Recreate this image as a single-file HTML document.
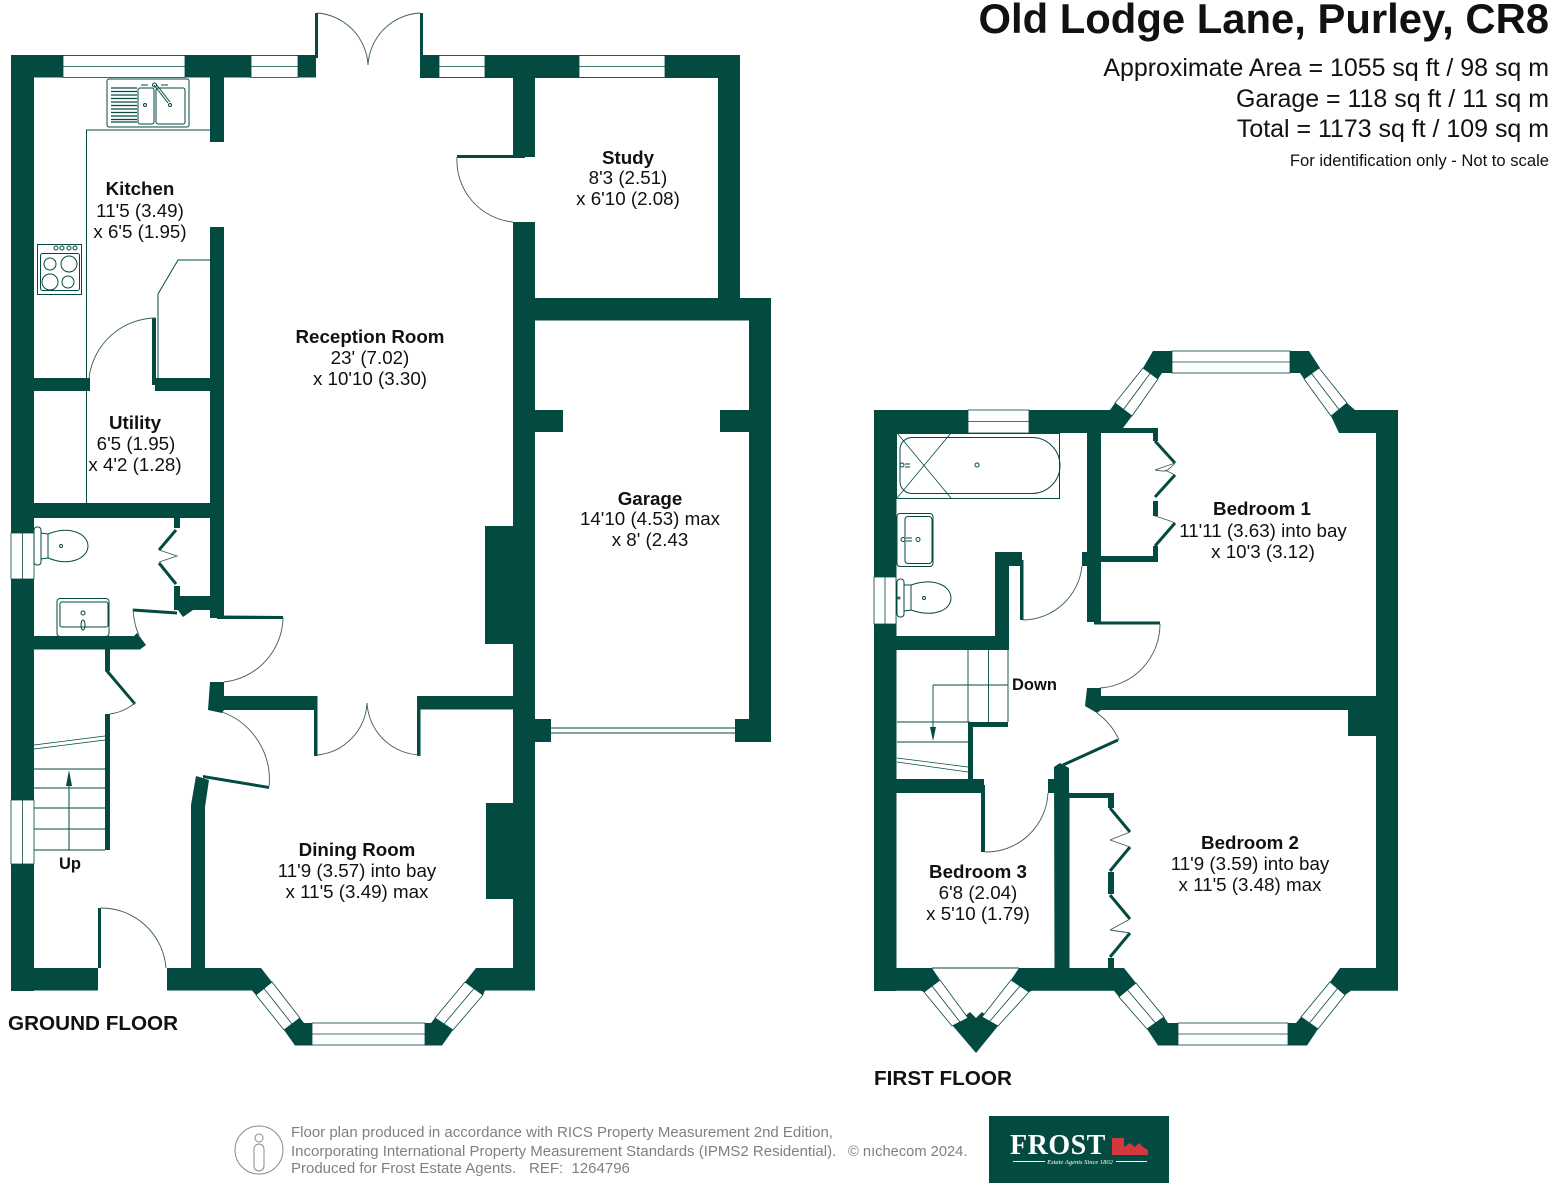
<!DOCTYPE html>
<html><head><meta charset="utf-8"><style>
html,body{margin:0;padding:0;background:#fff}
svg{display:block}
text{font-family:"Liberation Sans",sans-serif;fill:#111}
.r{font-size:18.750px;text-anchor:middle}
.b{font-weight:bold}
.w{fill:#034a40}
.l{fill:none;stroke:#034a40;stroke-width:1}
.a{fill:none;stroke:#3c5c55;stroke-width:.9}
.t{fill:none;stroke:#034a40;stroke-width:3}
.g{fill:#808080;font-size:15px}
.n{fill:#fff;stroke:#034a40;stroke-width:.8}
</style></head><body>
<svg width="1553" height="1186" viewBox="0 0 1553 1186" xmlns="http://www.w3.org/2000/svg">
<rect width="1553" height="1186" fill="#fff"/>

<!-- GROUND FLOOR WALLS -->
<g class="w">
<rect x="11" y="55" width="23" height="936"/>
<rect x="11" y="55" width="305" height="22.500"/>
<rect x="315" y="13" width="3" height="45"/>
<rect x="420" y="13" width="3" height="45"/>
<rect x="420" y="55" width="320" height="23"/>
<rect x="718" y="55" width="22" height="265"/>
<rect x="513" y="55" width="22" height="102"/>
<rect x="513" y="222" width="22" height="768"/>
<rect x="210" y="77" width="14" height="65"/>
<rect x="210" y="227" width="14" height="390"/>
<rect x="34" y="378" width="56" height="13"/>
<rect x="155" y="378" width="56" height="13"/>
<rect x="152" y="318" width="4" height="67"/>
<rect x="34" y="503" width="176" height="15"/>
<rect x="174" y="518" width="6" height="10"/>
<rect x="174" y="586" width="6" height="15"/>
<rect x="174" y="596" width="50" height="14"/>
<polygon points="175,606 183,602 193,610 183,617"/>
<polygon points="34,636 134,636 137,633 146,645 140,649.500 34,649.500"/>
<rect x="105" y="649" width="5" height="22"/>
<rect x="105" y="714" width="5" height="136"/>
<polygon points="105,671 109,671 136,703 134,705"/>
<rect x="210" y="610" width="7" height="8"/>
<polygon points="217,615.500 283,616 283,619 217,619"/>
<polygon points="210,682 224,682 224,696 315,696 315,710 224,710 222,713 208,710"/>
<rect x="314" y="696" width="3.500" height="60"/>
<rect x="417" y="696" width="96" height="13.500"/>
<rect x="417" y="703" width="3.500" height="53"/>
<rect x="513" y="696" width="5" height="14"/>
<rect x="485" y="526" width="28" height="118"/>
<rect x="486" y="803" width="27" height="96"/>
<polygon points="196,776 209,780 205,807 205,968 191,968 191,805"/>
<polygon points="203,775 269,786 269,789 203,778"/>
<rect x="98" y="908" width="3" height="60"/>
<polygon points="11,968 98,968 98,990.500 11,990.500"/>
<polygon points="167,968 261,968 272,982 256,995 252,990.500 167,990.500"/>
<polygon points="300,1018 304,1023 312,1023 312,1045.500 295,1045.500 284,1030"/>
<polygon points="425,1023 431,1023 435,1018 453,1030 442,1045.500 425,1045.500"/>
<polygon points="465,982 476,968 513,968 535,968 535,990.500 485,990.500 483,995"/>
<rect x="457" y="155" width="68" height="3"/>
<rect x="513" y="298" width="258" height="22.500"/>
<rect x="749" y="298" width="22" height="444"/>
<rect x="535" y="410" width="28" height="22"/>
<rect x="720" y="410" width="29" height="22"/>
<rect x="535" y="719" width="16" height="23"/>
<rect x="735" y="719" width="14" height="23"/>
</g>
<!-- bifold WC -->
<path class="t" d="M176,530 L159,550 M159,563 L176,584" stroke-width="2.500"/>
<path class="t" d="M133,610 L177,613"/>
<path class="a" d="M159,550 L177,556 L159,562"/>
<!-- windows ground -->
<g class="n">
<rect x="63" y="55.500" width="122" height="22"/><path d="M63,66.500H185"/>
<rect x="251" y="55.500" width="47" height="22"/><path d="M251,66.500H298"/>
<rect x="439" y="55.500" width="46" height="22"/><path d="M439,66.500H485"/>
<rect x="579" y="55.500" width="86" height="22"/><path d="M579,66.500H665"/>
<rect x="11" y="533" width="23" height="46"/><path d="M22.500,533V579"/>
<rect x="11" y="800" width="23" height="64"/><path d="M22.500,800V864"/>
<rect x="312" y="1023" width="113" height="22"/><path d="M312,1034H425"/>
<polygon points="256,995 272,982 300,1018 284,1030"/><path d="M264,988.500L292,1024"/>
<polygon points="435,1018 453,1030 483,995 465,982"/><path d="M444,1024L474,988.500"/>
</g>
<!-- arcs ground -->
<g class="a">
<path d="M317,13 A55,55 0 0 1 368,65"/>
<path d="M420,13 A55,55 0 0 0 368,65"/>
<path d="M317,755 A55,55 0 0 0 367,703"/>
<path d="M420,755 A55,55 0 0 1 367,703"/>
<path d="M457,157 A62,62 0 0 0 513,222"/>
<path d="M156,318 A68,68 0 0 0 89,378"/>
<path d="M283,617 A66,66 0 0 1 224,682"/>
<path d="M222,712 A72,72 0 0 1 269,787"/>
<path d="M101,908 A65,65 0 0 1 166,968"/>
<path d="M133,609 Q134,625 139,635"/>
<path d="M135,703 Q124,712 110,714"/>
</g>
<!-- counters -->
<g class="l">
<path d="M210,130H86.500V505"/>
<path d="M210,260H178L158,294V378"/>
<path d="M89,391V378"/>
<rect x="107" y="79" width="82" height="48" rx="2"/>
<rect x="138" y="88" width="16" height="36" rx="2"/>
<rect x="156" y="88" width="29" height="36" rx="2"/>
<path d="M111,88H137M111,91.500H137M111,95H137M111,98.500H137M111,102H137M111,105.500H137M111,109H137M111,112.500H137M111,116H137M111,119.500H137M111,122H137" stroke-width="1.300"/>
<path d="M154,85L168,103M156,84L170,102"/>
<circle cx="154.500" cy="85" r="2"/>
<circle cx="145" cy="105" r="1.500"/><circle cx="170" cy="105" r="1.500"/>
<path d="M141,85H148M161,85H168"/>
<rect x="37.500" y="244.500" width="44" height="50"/>
<rect x="40.500" y="253.500" width="39" height="37" rx="2"/>
<circle cx="50" cy="264" r="6"/><circle cx="69" cy="264" r="8"/>
<circle cx="50" cy="282" r="8"/><circle cx="68" cy="282" r="6"/>
<circle cx="56" cy="248" r="2"/><circle cx="62" cy="248" r="2"/><circle cx="69" cy="248" r="2"/><circle cx="75" cy="248" r="2"/>
<rect x="34" y="527" width="7" height="38" rx="3"/>
<path d="M41,533L48,534C70,525 88,534 88,546C88,558 70,567 48,558L41,559"/>
<path d="M48,534V558"/>
<circle cx="61" cy="546" r="1.500"/>
<rect x="57" y="598.500" width="52" height="38" rx="3"/>
<rect x="60" y="602" width="48" height="25" rx="2"/>
<ellipse cx="83" cy="625" rx="2" ry="5"/>
<circle cx="83" cy="613" r="2"/>
<!-- stairs ground -->
<path d="M34,769H105M34,788H105M34,808H105M34,829H105M34,850H105" stroke-width=".9"/>
<path d="M34,745L105,736M34,749L105,740" stroke-width=".7"/>
<path d="M69,850V774"/>
<path d="M551,728H735M551,733H735"/>
</g>
<polygon class="w" points="69,770 66,786 72,786"/>

<!-- FIRST FLOOR WALLS -->
<g class="w">
<rect x="874" y="410" width="22.500" height="581"/>
<polygon points="874,410 1110,410 1115,403 1132,416 1123,428 1158,428 1158,433 874,433"/>
<rect x="1087" y="428" width="14" height="194"/>
<rect x="1101" y="556" width="57" height="6"/>
<rect x="1153" y="428" width="5" height="13"/>
<rect x="1153" y="501" width="5" height="15"/>
<rect x="1153" y="546" width="5" height="16"/>
<rect x="1082" y="552" width="5" height="14"/>
<rect x="995" y="552" width="27" height="14"/>
<rect x="995" y="552" width="14" height="98"/>
<rect x="1020" y="560" width="3.500" height="60"/>
<rect x="896" y="636" width="113" height="14"/>
<rect x="1094" y="621.500" width="66" height="3"/>
<polygon points="1087,688 1101,688 1101,696 1398,696 1398,710 1101,710 1097,713 1085,706"/>
<rect x="1348" y="710" width="28" height="26"/>
<rect x="968" y="722" width="40" height="5"/>
<rect x="968" y="722" width="5" height="60"/>
<rect x="896" y="779" width="88" height="14"/>
<rect x="981" y="785" width="4" height="67"/>
<rect x="1048" y="779" width="7" height="14"/>
<polygon points="1054,767 1060,763 1069,768 1069,793 1113,793 1113,798 1069.500,798 1069.500,968 1054.500,968"/>
<rect x="1108" y="793" width="6" height="15"/>
<rect x="1108" y="872" width="6" height="22"/>
<rect x="1108" y="958" width="6" height="10"/>
<polygon points="874,968 932,968 940,980 924,992 921,990.700 874,990.700"/>
<polygon points="953,1026 970,1012 976,1018 982,1012 998,1026 976,1053"/>
<polygon points="1011,980 1019,968 1124,968 1136,983 1119,997 1114,990.700 1032,990.700 1029,992"/>
<polygon points="1164,1017 1168,1023 1178,1023 1178,1045.500 1158,1045.500 1147,1029"/>
<polygon points="1288,1023 1296,1023 1301,1017 1318,1029 1307,1045.500 1288,1045.500"/>
<polygon points="1330,982 1340,968 1376,968 1376,410 1398,410 1398,990.700 1351,990.700 1345,995"/>
<polygon points="1143,368 1153,351 1172,351 1172,373 1162,373 1158,379"/>
<polygon points="1290,351 1309,351 1320,368 1304,379 1300,373 1290,373"/>
<polygon points="1347,403 1355,410 1376,410 1376,433 1339,433 1331,416"/>
</g>
<path class="t" stroke-width="2.500" d="M1155,441L1175,463M1175,475L1155,497M1155,546L1175,523"/>
<path class="t" stroke-width="2.500" d="M1110,808L1130,832M1130,847L1110,871M1110,895L1130,919M1130,933L1110,957"/>
<path class="t" stroke-width="3" d="M1063,765L1118,740"/>
<path class="l" d="M932,968H1019"/>
<g class="n">
<rect x="968" y="410" width="61" height="23"/><path d="M968,421.500H1029"/>
<rect x="874" y="577" width="22" height="47"/><path d="M885,577V624"/>
<rect x="1172" y="351" width="118" height="22"/><path d="M1172,362H1290"/>
<polygon points="1115,403 1132,416 1158,379 1143,368"/><path d="M1123.500,409.500L1150,373.500"/>
<polygon points="1319,368 1304,379 1331,416 1347,403"/><path d="M1311.500,373.500L1339,409.500"/>
<polygon points="924,992 940,980 968,1018 952,1026"/><path d="M932,986L960,1022"/>
<polygon points="1011,980 1029,992 998,1026 982,1017"/><path d="M1020,986L990,1021"/>
<polygon points="1119,997 1136,983 1164,1017 1147,1029"/><path d="M1127.500,990L1155.500,1023"/>
<rect x="1178" y="1023" width="110" height="22"/><path d="M1178,1034H1288"/>
<polygon points="1301,1017 1318,1029 1345,995 1330,982"/><path d="M1309.500,1023L1337.500,988.500"/>
</g>
<g class="a">
<path d="M1023,620 A60,60 0 0 0 1082,566"/>
<path d="M1160,624 A64,64 0 0 1 1100,688"/>
<path d="M1097,713 Q1112,724 1119,740"/>
<path d="M985,852 A62,62 0 0 0 1048,793"/>
<path d="M1155,470L1175,463C1165,474 1165,471 1155,470"/>
<path d="M1175,475L1165,470"/>
<path d="M1155,516Q1168,520 1175,523"/>
<path d="M1110,840L1130,832M1110,840L1130,847"/>
<path d="M1110,930L1130,919M1110,930L1130,933"/>
</g>
<g class="l">
<rect x="896.500" y="433.500" width="163" height="65"/>
<path d="M912,437.500H1032A28,28 0 0 1 1032,493.500H912A12,12 0 0 1 900,481.500V449.500A12,12 0 0 1 912,437.500Z"/>
<path d="M897,433L951,498M951,433L897,498" stroke-width=".8"/>
<circle cx="977" cy="465" r="2"/>
<circle cx="902" cy="465" r="2"/><path d="M905,464H910M905,467H910"/>
<rect x="897" y="513.500" width="36" height="53" rx="3"/>
<rect x="905" y="516.500" width="27" height="47" rx="3"/>
<circle cx="918" cy="539.500" r="2"/><circle cx="903" cy="539.500" r="2"/><path d="M906,538H912M906,541H912"/>
<rect x="897" y="579" width="7" height="38" rx="3"/>
<path d="M904,585L911,585C934,577 951,586 951,598C951,610 934,618 911,610L904,611"/>
<path d="M911,585V610"/>
<circle cx="924" cy="598" r="1.500"/><circle cx="899" cy="598" r="1"/>
<path d="M968,650V722M988.500,650V722M1008,650V722" stroke-width=".9"/>
<path d="M933,685H1008M933,685V730M897,722H970M897,742H968" stroke-width=".9"/>
<path d="M897,758L968,767M897,762L968,772" stroke-width=".7"/>
</g>
<polygon class="w" points="933,741 930,727 936,727"/>

<!-- LABELS GROUND -->
<g class="r">
<text x="140" y="195" class="b">Kitchen</text>
<text x="140" y="217">11'5 (3.49)</text>
<text x="140" y="238">x 6'5 (1.95)</text>
<text x="135" y="429" class="b">Utility</text>
<text x="136" y="450">6'5 (1.95)</text>
<text x="135" y="471">x 4'2 (1.28)</text>
<text x="370" y="343" class="b">Reception Room</text>
<text x="370" y="364">23' (7.02)</text>
<text x="370" y="385">x 10'10 (3.30)</text>
<text x="628" y="164" class="b">Study</text>
<text x="628" y="184">8'3 (2.51)</text>
<text x="628" y="205">x 6'10 (2.08)</text>
<text x="650" y="505" class="b">Garage</text>
<text x="650" y="525">14'10 (4.53) max</text>
<text x="650" y="546">x 8' (2.43</text>
<text x="357" y="856" class="b">Dining Room</text>
<text x="357" y="877">11'9 (3.57) into bay</text>
<text x="357" y="898">x 11'5 (3.49) max</text>
<text x="1262" y="515" class="b">Bedroom 1</text>
<text x="1263" y="537">11'11 (3.63) into bay</text>
<text x="1263" y="558">x 10'3 (3.12)</text>
<text x="1250" y="849" class="b">Bedroom 2</text>
<text x="1250" y="870">11'9 (3.59) into bay</text>
<text x="1250" y="891">x 11'5 (3.48) max</text>
<text x="978" y="878" class="b">Bedroom 3</text>
<text x="978" y="899">6'8 (2.04)</text>
<text x="978" y="920">x 5'10 (1.79)</text>
</g>
<text x="59" y="869" class="b" style="font-size:16.500px">Up</text>
<text x="1012" y="690" class="b" style="font-size:16.500px">Down</text>
<text x="8" y="1030" class="b" style="font-size:20.700px">GROUND FLOOR</text>
<text x="874" y="1085" class="b" style="font-size:20.700px">FIRST FLOOR</text>

<!-- TITLE -->
<text x="1549" y="33" class="b" text-anchor="end" style="font-size:41.800px">Old Lodge Lane, Purley, CR8</text>
<text x="1549" y="76" text-anchor="end" style="font-size:24.950px">Approximate Area = 1055 sq ft / 98 sq m</text>
<text x="1549" y="107" text-anchor="end" style="font-size:24.950px">Garage = 118 sq ft / 11 sq m</text>
<text x="1549" y="137" text-anchor="end" style="font-size:24.950px">Total = 1173 sq ft / 109 sq m</text>
<text x="1549" y="166" text-anchor="end" style="font-size:16.600px">For identification only - Not to scale</text>

<!-- FOOTER -->
<circle cx="259" cy="1150" r="24" fill="none" stroke="#8a8a8a" stroke-width="1"/>
<circle cx="259" cy="1138" r="4" fill="none" stroke="#8a8a8a"/>
<rect x="254" y="1144" width="10" height="27" rx="5" fill="none" stroke="#8a8a8a"/>
<text x="291" y="1137" class="g">Floor plan produced in accordance with RICS Property Measurement 2nd Edition,</text>
<text x="291" y="1156" class="g">Incorporating International Property Measurement Standards (IPMS2 Residential).</text>
<text x="848" y="1156" class="g" style="font-size:14.700px">© nıchecom 2024.</text>
<text x="291" y="1173" class="g">Produced for Frost Estate Agents.</text>
<text x="529" y="1173" class="g" xml:space="preserve" style="white-space:pre">REF:  1264796</text>
<rect x="989" y="1116" width="180" height="67" fill="#034a40"/>
<text x="1010" y="1154" style="font-family:'Liberation Serif',serif;font-weight:bold;font-size:28px;fill:#fff;letter-spacing:.5px">FROST</text>
<g fill="#d2383d">
<rect x="1112" y="1138" width="12" height="17"/>
<polygon points="1124,1155 1124,1147 1130,1143 1135,1147 1139,1143 1143,1147 1148,1150 1148,1155"/>
</g>
<path d="M1013,1161.500H1045M1116,1161.500H1147" stroke="#fff" stroke-width="1"/>
<text x="1080" y="1164" text-anchor="middle" style="font-family:'Liberation Serif',serif;font-style:italic;font-size:6.500px;fill:#fff">Estate Agents Since 1802</text>
</svg>
</body></html>
